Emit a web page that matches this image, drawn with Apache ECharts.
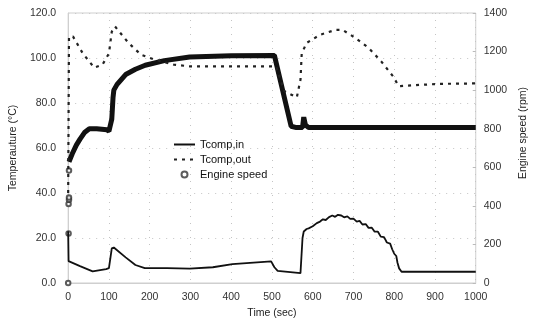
<!DOCTYPE html>
<html>
<head>
<meta charset="utf-8">
<script src="https://cdn.jsdelivr.net/npm/echarts@6/dist/echarts.min.js"></script>
<style>
  html, body { margin: 0; padding: 0; background: #fff; }
  #chart { width: 537px; height: 324px; }
</style>
</head>
<body>
<div id="chart"></div>
<script>
// Tcomp,in (deg C) - [time sec, value]
const T_IN = [
  [0, 23], [1, 9.7], [29, 7.5], [60, 5.2], [93, 6.2], [100, 6.6], [107, 15.4], [112, 15.8],
  [141, 11.4], [165, 8], [188, 6.6], [243, 6.6], [298, 6.4], [355, 7], [403, 8.4], [498, 9.6],
  [506, 7.0], [514, 5.4], [570, 4.4], [572, 4.5], [575, 20], [578, 22.9], [585, 24], [590, 24.3],
  [600, 25.2], [610, 26.6], [618, 27.3], [625, 28.3], [632, 28.0], [640, 29.3], [648, 30.0],
  [655, 29.4], [662, 30.3], [670, 30.0], [677, 29.2], [685, 29.6], [692, 28.5], [700, 28.6],
  [708, 27.3], [715, 27.6], [722, 26.0], [730, 26.2], [737, 24.5], [745, 24.6], [752, 22.8],
  [760, 22.8], [767, 20.6], [775, 20.4], [782, 18], [790, 17.5], [795, 15], [800, 13],
  [805, 12], [808, 9], [812, 6.5], [818, 5], [1000, 5]
];

// Tcomp,out (deg C)
const T_OUT = [
  [0, 40], [2, 109.5], [12, 109.5], [36, 102], [64, 95.7], [84, 97], [100, 102], [107, 111.7],
  [115, 114], [148, 106.7], [179, 101.4], [212, 99.3], [260, 97], [298, 96.3], [510, 96.3],
  [530, 85.3], [561, 82.5], [570, 90.4], [573, 102], [585, 106.7], [618, 110.3], [656, 112.5],
  [673, 112.5], [704, 109], [737, 104.5], [768, 98.5], [797, 91.9], [811, 87.5], [847, 87.9],
  [912, 88.5], [1000, 88.7]
];

// Engine speed (rpm)
const RPM_START = [[0, 0], [1, 257], [1, 410], [2, 432], [2, 443], [2, 583]];
const RPM = [
  [2, 628], [10, 670], [20, 715], [29, 746], [40, 780], [52, 800], [70, 800], [95, 795],
  [100, 787], [104, 790], [107, 850], [110, 960], [112, 1000], [120, 1030], [141, 1081],
  [165, 1108], [189, 1129], [236, 1153], [298, 1172], [400, 1178], [506, 1180], [547, 813],
  [560, 806], [575, 806], [578, 860], [582, 820], [590, 806], [1000, 806]
];

const FONT = '"Liberation Sans", Arial, sans-serif';
const gridLine = { show: true, lineStyle: { color: '#c4c4c4', type: [1, 6], width: 1 } };
const plain = v => String(v);

const chart = echarts.init(document.getElementById('chart'));
chart.setOption({
  animation: false,
  textStyle: { fontFamily: FONT },
  grid: { left: 68, right: 50, top: 13, bottom: 39, show: true, borderColor: '#cfcfcf', borderWidth: 1 },
  legend: {
    orient: 'vertical',
    left: 173,
    top: 139,
    padding: 0,
    itemWidth: 21,
    itemHeight: 6,
    itemGap: 4,
    textStyle: { fontSize: 11, color: '#111', fontFamily: FONT },
    data: [
      { name: 'Tcomp,in', itemStyle: { opacity: 0 } },
      { name: 'Tcomp,out', itemStyle: { opacity: 0 } },
      'Engine speed'
    ]
  },
  xAxis: {
    type: 'value', min: 0, max: 1000, interval: 100,
    name: 'Time (sec)', nameLocation: 'middle', nameGap: 25,
    nameTextStyle: { fontSize: 10.5, color: '#222' },
    axisLine: { lineStyle: { color: '#cfcfcf' } },
    axisTick: { show: false },
    axisLabel: { fontSize: 10.5, color: '#333', margin: 9, formatter: plain },
    splitLine: gridLine
  },
  yAxis: [
    {
      type: 'value', min: 0, max: 120, interval: 20,
      name: 'Temperauture (°C)', nameLocation: 'middle', nameGap: 42,
      nameTextStyle: { fontSize: 10.5, color: '#222' },
      axisLine: { show: true, lineStyle: { color: '#cfcfcf' } },
      axisTick: { show: false },
      axisLabel: { fontSize: 10.5, color: '#333', margin: 12, formatter: v => v.toFixed(1) },
      splitLine: gridLine
    },
    {
      type: 'value', min: 0, max: 1400, interval: 200, position: 'right',
      name: 'Engine speed (rpm)', nameLocation: 'middle', nameGap: 36, nameRotate: 90,
      nameTextStyle: { fontSize: 10.5, color: '#222', padding: [0, 0, 0, 30] },
      axisLine: { show: false },
      axisTick: { show: true, inside: true, length: 3, lineStyle: { color: '#bbb' } },
      axisLabel: { fontSize: 10.5, color: '#333', margin: 8, formatter: plain },
      splitLine: { show: false }
    }
  ],
  series: [
    {
      name: 'Engine speed', type: 'scatter', yAxisIndex: 1, data: RPM_START,
      symbol: 'emptyCircle', symbolSize: 4.5,
      itemStyle: { color: '#333', borderColor: '#333', borderWidth: 1 }
    },
    {
      name: 'Engine speed', type: 'line', yAxisIndex: 1, data: RPM,
      showSymbol: false, symbol: 'none',
      itemStyle: { color: '#111' },
      lineStyle: { color: '#111', width: 5 }
    },
    {
      name: 'Tcomp,in', type: 'line', data: T_IN,
      showSymbol: false, symbol: 'none',
      itemStyle: { color: '#111' },
      lineStyle: { color: '#111', width: 1.8 }
    },
    {
      name: 'Tcomp,out', type: 'line', data: T_OUT,
      showSymbol: false, symbol: 'none',
      itemStyle: { color: '#222' },
      lineStyle: { color: '#222', width: 2.2, type: [3, 5] }
    }
  ]
});
</script>
</body>
</html>
